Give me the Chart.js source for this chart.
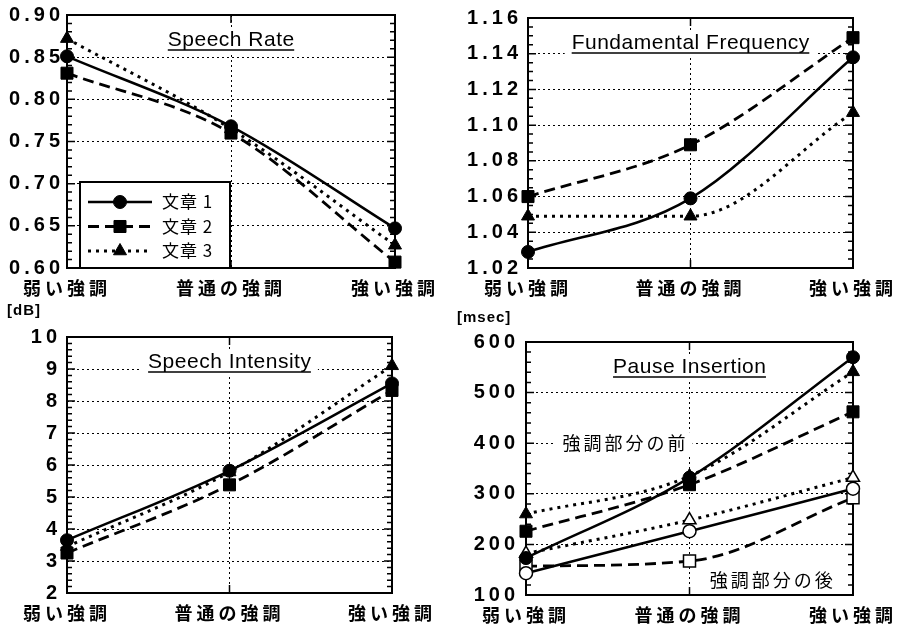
<!DOCTYPE html>
<html>
<head>
<meta charset="utf-8">
<script src="https://cdn.jsdelivr.net/npm/chart.js@4.4.1/dist/chart.umd.min.js"></script>
<style>
  body { margin: 0; background: #fff; width: 898px; height: 628px; position: relative; overflow: hidden; }
  canvas { position: absolute; }
</style>
</head>
<body>
<canvas id="rateChart" width="449" height="300" style="left:0;top:0"></canvas>
<canvas id="freqChart" width="449" height="300" style="left:449px;top:0"></canvas>
<canvas id="intensityChart" width="449" height="328" style="left:0;top:300px"></canvas>
<canvas id="pauseChart" width="449" height="328" style="left:449px;top:300px"></canvas>
<script>
// categories shared by all four panels
const categories = ['弱い強調', '普通の強調', '強い強調'];
const sentences = ['文章 1', '文章 2', '文章 3'];

// Speech Rate
const rateS1 = [0.851, 0.768, 0.647];
const rateS2 = [0.831, 0.760, 0.607];
const rateS3 = [0.872, 0.765, 0.627];
const rateAxis = { min: 0.60, max: 0.90, step: 0.05, minor: 0.01, decimals: 2 };

// Fundamental Frequency
const freqS1 = [1.029, 1.059, 1.138];
const freqS2 = [1.060, 1.089, 1.149];
const freqS3 = [1.049, 1.049, 1.107];
const freqAxis = { min: 1.02, max: 1.16, step: 0.02, minor: 0.005, decimals: 2 };

// Speech Intensity [dB]
const intensityS1 = [3.65, 5.82, 8.55];
const intensityS2 = [3.25, 5.38, 8.33];
const intensityS3 = [3.45, 5.78, 9.10];
const intensityAxis = { min: 2, max: 10, step: 1, minor: 0.2, decimals: 0 };

// Pause Insertion [msec] - before / after the emphasized part
const pauseBeforeS1 = [173, 332, 570];
const pauseBeforeS2 = [226, 318, 462];
const pauseBeforeS3 = [260, 335, 541];
const pauseAfterS1 = [143, 226, 310];
const pauseAfterS2 = [157, 167, 292];
const pauseAfterS3 = [182, 248, 332];
const pauseAxis = { min: 100, max: 600, step: 100, minor: 20, decimals: 0 };

const lineStyles = [
  { dash: [], width: 2.5, point: 'circle', radius: 6.5 },
  { dash: [11, 6], width: 2.8, point: 'rect', radius: 8.5 },
  { dash: [3, 5], width: 3, point: 'triangle', radius: 7.5 }
];

const tickFont = { family: '"Liberation Sans", Arial, sans-serif', size: 20, weight: 'bold' };
const jpFont = '"Noto Sans CJK JP", "Noto Sans", sans-serif';

function isMajor(v, step) {
  const r = v / step;
  return Math.abs(r - Math.round(r)) < 1e-6;
}

function makeDataset(label, values, idx, hollow) {
  const s = lineStyles[idx];
  return {
    label: label,
    data: values,
    borderColor: '#000',
    borderWidth: s.width,
    borderDash: s.dash,
    pointStyle: s.point,
    pointRadius: s.radius,
    pointBorderWidth: hollow ? 1.5 : 1,
    pointBorderColor: '#000',
    pointBackgroundColor: hollow ? '#fff' : '#000',
    cubicInterpolationMode: 'monotone',
    fill: false,
    clip: false
  };
}

// white-backed text label, optionally underlined
function drawLabel(ctx, text, cx, cy, font, spacing, underline) {
  ctx.save();
  ctx.font = font;
  ctx.letterSpacing = spacing + 'px';
  const w = ctx.measureText(text).width - spacing;
  ctx.fillStyle = '#fff';
  ctx.fillRect(cx - w / 2 - 7, cy - 11, w + 14, 23);
  ctx.fillStyle = '#000';
  ctx.textAlign = 'left';
  ctx.textBaseline = 'middle';
  ctx.fillText(text, cx - w / 2, cy);
  if (underline) {
    ctx.lineWidth = 1.5;
    ctx.beginPath();
    ctx.moveTo(cx - w / 2, cy + 10);
    ctx.lineTo(cx + w / 2, cy + 10);
    ctx.stroke();
  }
  ctx.restore();
}

const paperDecor = {
  id: 'paperDecor',
  beforeDraw(chart) {
    chart.ctx.letterSpacing = '4px';
  },
  beforeDatasetsDraw(chart, args, opts) {
    const { ctx, chartArea: a, scales: { x, y } } = chart;
    ctx.save();
    ctx.strokeStyle = '#000';
    ctx.setLineDash([]);
    ctx.lineWidth = 1.5;
    // inward minor / major ticks on both vertical edges
    y.ticks.forEach((t) => {
      const py = y.getPixelForValue(t.value);
      const len = isMajor(t.value, opts.step) ? 8 : 5;
      ctx.beginPath();
      ctx.moveTo(a.left, py);
      ctx.lineTo(a.left + len, py);
      ctx.moveTo(a.right, py);
      ctx.lineTo(a.right - len, py);
      ctx.stroke();
    });
    const mx = x.getPixelForValue(1);
    ctx.beginPath();
    ctx.moveTo(mx, a.top);
    ctx.lineTo(mx, a.top + 8);
    ctx.moveTo(mx, a.bottom);
    ctx.lineTo(mx, a.bottom - 8);
    ctx.stroke();
    ctx.lineWidth = 2;
    ctx.strokeRect(a.left, a.top, a.width, a.height);
    ctx.restore();

    drawLabel(ctx, opts.title, (a.left + a.right) / 2, a.top + 25,
      '21px "Liberation Sans", Arial, sans-serif', 0.5, true);

    (opts.notes || []).forEach((n) => {
      drawLabel(ctx, n.text, x.getPixelForValue(n.x), y.getPixelForValue(n.y),
        '18px ' + jpFont, 3, false);
    });
  },
  afterDatasetsDraw(chart, args, opts) {
    if (!opts.legend) return;
    const { ctx, chartArea: a } = chart;
    const box = { left: a.left + 13, top: a.bottom - 86, width: 150, height: 86 };
    ctx.save();
    ctx.fillStyle = '#fff';
    ctx.fillRect(box.left, box.top, box.width, box.height);
    ctx.strokeStyle = '#000';
    ctx.lineWidth = 2;
    ctx.strokeRect(box.left, box.top, box.width, box.height);
    chart.data.datasets.forEach((ds, i) => {
      const cy = box.top + 20 + i * 24.5;
      ctx.setLineDash(ds.borderDash);
      ctx.lineWidth = ds.borderWidth;
      ctx.beginPath();
      ctx.moveTo(box.left + 8, cy);
      ctx.lineTo(box.left + 72, cy);
      ctx.stroke();
      ctx.setLineDash([]);
      ctx.fillStyle = '#000';
      ctx.lineWidth = 1;
      Chart.helpers.drawPoint(ctx, { pointStyle: ds.pointStyle, radius: ds.pointRadius, rotation: 0, borderWidth: 1 }, box.left + 40, cy);
      ctx.font = '17px ' + jpFont;
      ctx.letterSpacing = '1px';
      ctx.textBaseline = 'middle';
      ctx.textAlign = 'left';
      ctx.fillText(ds.label, box.left + 82, cy);
    });
    ctx.restore();
  },
  afterDraw(chart, args, opts) {
    if (!opts.unit) return;
    const ctx = chart.ctx;
    ctx.save();
    ctx.font = 'bold 15px "Liberation Sans", Arial, sans-serif';
    ctx.letterSpacing = '1px';
    ctx.fillStyle = '#000';
    ctx.textBaseline = 'top';
    ctx.textAlign = 'left';
    ctx.fillText(opts.unit, opts.unitX, opts.unitY);
    ctx.restore();
  }
};

function makeChart(id, datasets, axis, layout, decor) {
  return new Chart(document.getElementById(id), {
    type: 'line',
    data: { labels: categories, datasets: datasets },
    plugins: [paperDecor],
    options: {
      responsive: false,
      animation: false,
      events: [],
      layout: { padding: { left: 0, top: layout.top, right: layout.right, bottom: 0 } },
      scales: {
        x: {
          type: 'category',
          offset: false,
          afterFit: (scale) => { scale.height = layout.xHeight; },
          ticks: {
            color: '#000',
            padding: 9,
            maxRotation: 0,
            autoSkip: false,
            font: { family: jpFont, size: 18, weight: 'bold' }
          },
          grid: {
            drawTicks: false,
            lineWidth: 1,
            color: (ctx) => (ctx.index === 1 ? '#000' : 'rgba(0,0,0,0)')
          },
          border: { display: false, dash: [2, 3] }
        },
        y: {
          min: axis.min,
          max: axis.max,
          afterFit: (scale) => { scale.width = layout.yWidth; },
          ticks: {
            stepSize: axis.minor,
            autoSkip: false,
            color: '#000',
            padding: layout.tickPad,
            font: tickFont,
            callback: (v) => (isMajor(v, axis.step) ? Number(v).toFixed(axis.decimals) : '')
          },
          grid: {
            drawTicks: false,
            lineWidth: 1,
            color: (ctx) => (ctx.tick && isMajor(ctx.tick.value, axis.step) ? '#000' : 'rgba(0,0,0,0)')
          },
          border: { display: false, dash: [2, 3] }
        }
      },
      plugins: {
        legend: { display: false },
        tooltip: { enabled: false },
        paperDecor: Object.assign({ step: axis.step }, decor)
      }
    }
  });
}

makeChart('rateChart', [
  makeDataset(sentences[0], rateS1, 0, false),
  makeDataset(sentences[1], rateS2, 1, false),
  makeDataset(sentences[2], rateS3, 2, false)
], rateAxis, { top: 15, right: 54, xHeight: 32, yWidth: 67, tickPad: 3 },
{ title: 'Speech Rate', legend: true });

makeChart('freqChart', [
  makeDataset(sentences[0], freqS1, 0, false),
  makeDataset(sentences[1], freqS2, 1, false),
  makeDataset(sentences[2], freqS3, 2, false)
], freqAxis, { top: 18, right: 43, xHeight: 32, yWidth: 79, tickPad: 6 },
{ title: 'Fundamental Frequency' });

makeChart('intensityChart', [
  makeDataset(sentences[0], intensityS1, 0, false),
  makeDataset(sentences[1], intensityS2, 1, false),
  makeDataset(sentences[2], intensityS3, 2, false)
], intensityAxis, { top: 37, right: 57, xHeight: 35, yWidth: 67, tickPad: 6 },
{ title: 'Speech Intensity', unit: '[dB]', unitX: 7, unitY: 3 });

makeChart('pauseChart', [
  makeDataset(sentences[0] + ' 前', pauseBeforeS1, 0, false),
  makeDataset(sentences[1] + ' 前', pauseBeforeS2, 1, false),
  makeDataset(sentences[2] + ' 前', pauseBeforeS3, 2, false),
  makeDataset(sentences[0] + ' 後', pauseAfterS1, 0, true),
  makeDataset(sentences[1] + ' 後', pauseAfterS2, 1, true),
  makeDataset(sentences[2] + ' 後', pauseAfterS3, 2, true)
], pauseAxis, { top: 42, right: 44, xHeight: 33, yWidth: 77, tickPad: 7 },
{
  title: 'Pause Insertion', unit: '[msec]', unitX: 8, unitY: 10,
  notes: [
    { text: '強調部分の前', x: 0.6, y: 400 },
    { text: '強調部分の後', x: 1.5, y: 130 }
  ]
});
</script>
</body>
</html>
